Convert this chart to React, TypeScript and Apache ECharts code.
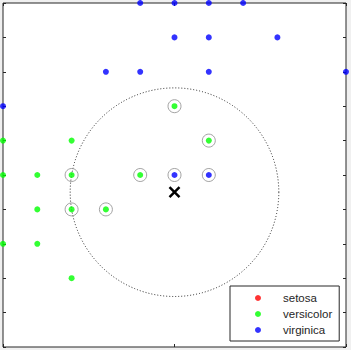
import React, { useEffect, useRef } from "react";
import * as echarts from "echarts";

// Iris petal length (x) / petal width (y), zoomed window
const versicolorX = [5.0, 5.1, 4.5, 4.7, 4.5, 4.6, 4.7, 4.9, 4.6, 4.7, 4.8, 4.5, 4.6, 4.7];
const versicolorY = [1.7, 1.6, 1.6, 1.6, 1.5, 1.5, 1.5, 1.5, 1.4, 1.4, 1.4, 1.3, 1.3, 1.2];
const virginicaX = [4.9, 5.0, 5.1, 5.2, 5.0, 5.1, 5.3, 4.8, 4.9, 5.1, 5.5, 4.5, 5.0, 5.1];
const virginicaY = [2.0, 2.0, 2.0, 2.0, 1.9, 1.9, 1.9, 1.8, 1.8, 1.8, 1.8, 1.7, 1.5, 1.5];
const neighborX = [5.0, 5.1, 4.7, 4.9, 5.0, 5.1, 4.7, 4.8];
const neighborY = [1.7, 1.6, 1.5, 1.5, 1.5, 1.5, 1.4, 1.4];
const queryPoint = [5.0, 1.45];
const searchRadius = 0.3041;
const classNames = ["setosa", "versicolor", "virginica"];
const classColors = ["#ff0000", "#00ff00", "#0000ff"];

const zip = (xs: number[], ys: number[]) => xs.map((x, i) => [x, ys[i]]);

export default function App() {
  const ref = useRef<HTMLDivElement>(null);
  useEffect(() => {
    if (!ref.current) return;
    const chart = echarts.init(ref.current, undefined, { renderer: "svg" });
    const axisCommon = {
      axisLine: { show: false },
      axisTick: { show: true, inside: true, length: 3, lineStyle: { color: "#262626", width: 1 } },
      axisLabel: { show: false },
      splitLine: { show: false },
    };
    chart.setOption({
      animation: false,
      grid: {
        left: 3,
        top: 3,
        width: 343,
        height: 344,
        show: true,
        backgroundColor: "#ffffff",
        borderColor: "#262626",
        borderWidth: 1,
      },
      xAxis: [
        { type: "value", min: 4.5, max: 5.5, interval: 0.5, position: "bottom", ...axisCommon },
        { type: "value", min: 4.5, max: 5.5, interval: 0.5, position: "top", ...axisCommon },
      ],
      yAxis: [
        { type: "value", min: 1, max: 2, interval: 0.1, position: "left", ...axisCommon },
        { type: "value", min: 1, max: 2, interval: 0.1, position: "right", ...axisCommon },
      ],
      legend: {
        data: classNames,
        orient: "vertical",
        left: 230,
        top: 286,
        padding: [4, 7, 3, 25],
        itemGap: 0,
        itemWidth: 6,
        itemHeight: 6,
        icon: "circle",
        backgroundColor: "#ffffff",
        borderColor: "#262626",
        borderWidth: 1,
        borderRadius: 0,
        textStyle: {
          fontFamily: "Liberation Sans, Arial, sans-serif",
          fontSize: 11.5,
          color: "#262626",
          lineHeight: 16,
          padding: [0, 0, 0, 17],
        },
      },
      series: [
        {
          name: classNames[0],
          type: "scatter",
          data: [],
          symbolSize: 6,
          itemStyle: { color: classColors[0] },
        },
        {
          name: classNames[1],
          type: "scatter",
          data: zip(versicolorX, versicolorY),
          symbolSize: 6,
          itemStyle: { color: classColors[1] },
        },
        {
          name: classNames[2],
          type: "scatter",
          data: zip(virginicaX, virginicaY),
          symbolSize: 6,
          itemStyle: { color: classColors[2] },
        },
        {
          name: "neighbors",
          type: "scatter",
          data: zip(neighborX, neighborY),
          symbol: "circle",
          symbolSize: 13,
          itemStyle: { color: "transparent", borderColor: "#8c8c8c", borderWidth: 1 },
          z: 3,
        },
        {
          name: "radius",
          type: "custom",
          data: [[queryPoint[0], queryPoint[1], searchRadius]],
          renderItem: (params: any, api: any) => {
            const c = api.coord([api.value(0), api.value(1)]);
            const s = api.size([api.value(2), api.value(2)]);
            return {
              type: "circle",
              shape: { cx: c[0], cy: c[1], r: s[0] },
              style: { fill: "none", stroke: "#262626", lineWidth: 1, lineDash: [1, 2] },
            };
          },
          z: 1,
        },
        {
          name: "query",
          type: "custom",
          data: [queryPoint],
          renderItem: (params: any, api: any) => {
            const c = api.coord([api.value(0), api.value(1)]);
            const h = 5;
            const st = { stroke: "#000000", lineWidth: 2.5 };
            return {
              type: "group",
              children: [
                { type: "line", shape: { x1: c[0] - h, y1: c[1] - h, x2: c[0] + h, y2: c[1] + h }, style: st },
                { type: "line", shape: { x1: c[0] - h, y1: c[1] + h, x2: c[0] + h, y2: c[1] - h }, style: st },
              ],
            };
          },
          z: 4,
        },
      ],
    });
    return () => chart.dispose();
  }, []);
  return (
    <div style={{ position: "fixed", left: 0, top: 0, width: 351, height: 350, background: "#f0f0f0" }}>
      <div ref={ref} style={{ width: 351, height: 350 }} />
    </div>
  );
}
